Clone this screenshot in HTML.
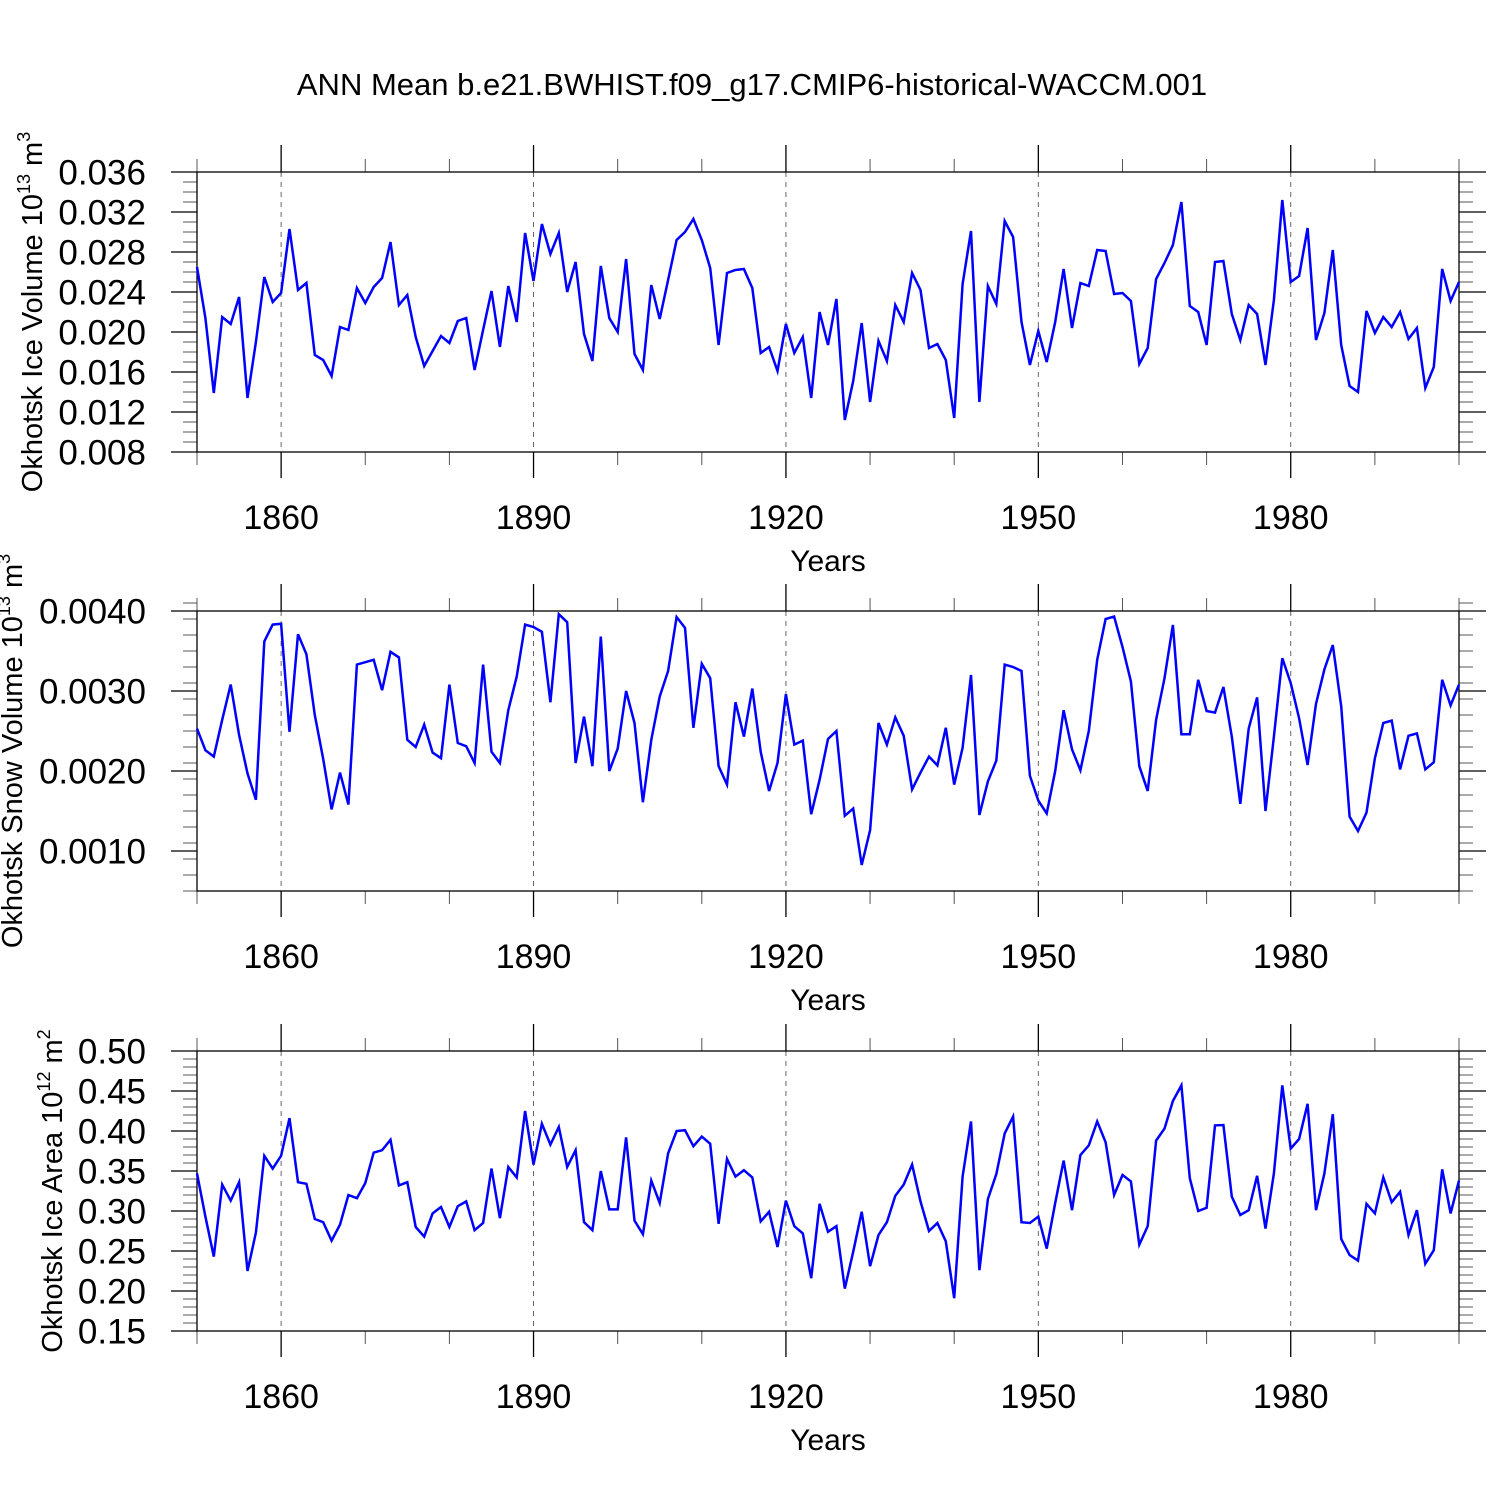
<!DOCTYPE html>
<html><head><meta charset="utf-8"><style>
html,body{margin:0;padding:0;background:#fff;}
svg{display:block;font-family:"Liberation Sans",Arial,sans-serif;}
</style></head><body>
<svg id="chart" width="1500" height="1500" viewBox="0 0 1500 1500" xmlns="http://www.w3.org/2000/svg">
<rect width="1500" height="1500" fill="#fff"/>
<text x="752" y="95" font-size="31" text-anchor="middle">ANN Mean b.e21.BWHIST.f09_g17.CMIP6-historical-WACCM.001</text>
</svg>
<script>
const startYear = 1850;
const iceVolume = [26.5,21.4,13.9,21.5,20.8,23.5,13.4,19.0,25.5,23.0,23.9,30.3,24.2,24.9,17.7,17.2,15.6,20.5,20.2,24.4,22.9,24.5,25.4,29.0,22.7,23.7,19.5,16.6,18.1,19.6,18.9,21.1,21.4,16.2,20.2,24.1,18.5,24.6,21.0,29.9,25.1,30.8,27.8,29.9,24.0,27.0,19.8,17.1,26.6,21.4,20.0,27.3,17.8,16.2,24.7,21.3,25.2,29.2,30.0,31.3,29.2,26.4,18.7,25.9,26.2,26.3,24.4,17.9,18.5,16.1,20.8,17.9,19.5,13.4,22.0,18.7,23.3,11.2,15.1,20.9,13.0,19.1,17.1,22.7,21.0,25.9,24.2,18.4,18.8,17.2,11.4,24.8,30.1,13.0,24.6,22.8,31.1,29.5,21.0,16.7,20.1,17.0,21.0,26.3,20.4,24.9,24.6,28.2,28.1,23.8,23.9,23.1,16.8,18.4,25.3,26.9,28.7,33.0,22.6,22.0,18.7,27.0,27.1,21.8,19.2,22.7,21.8,16.7,23.2,33.2,25.0,25.6,30.4,19.2,21.9,28.2,18.7,14.6,14.0,22.1,19.9,21.5,20.5,22.0,19.3,20.4,14.4,16.5,26.3,23.1,25.0].map(v=>v/1000);
const snowVolume = [25.3,22.6,21.8,26.4,30.8,24.5,19.7,16.4,36.2,38.3,38.4,24.9,37.1,34.6,27.0,21.5,15.2,19.8,15.8,33.3,33.6,33.9,30.1,34.9,34.2,23.9,23.0,25.8,22.3,21.6,30.8,23.5,23.1,21.0,33.3,22.4,21.0,27.6,31.8,38.3,38.0,37.4,28.6,39.6,38.6,21.0,26.8,20.6,36.8,20.0,22.8,30.0,26.0,16.1,23.9,29.3,32.5,39.25,37.9,25.4,33.4,31.6,20.6,18.3,28.6,24.3,30.3,22.4,17.5,21.0,29.6,23.3,23.8,14.6,18.9,24.0,25.0,14.4,15.3,8.25,12.6,26.0,23.3,26.7,24.4,17.7,19.8,21.8,20.7,25.4,18.3,22.9,32.0,14.5,18.7,21.3,33.3,33.0,32.5,19.4,16.3,14.7,20.0,27.6,22.7,20.1,25.0,33.9,39.0,39.3,35.5,31.2,20.6,17.5,26.4,31.6,38.25,24.6,24.6,31.4,27.5,27.3,30.5,24.3,15.9,25.3,29.2,15.0,24.3,34.1,31.0,26.6,20.75,28.4,32.7,35.75,28.1,14.3,12.5,14.8,21.6,26.0,26.3,20.2,24.4,24.7,20.2,21.1,31.4,28.2,30.8].map(v=>v/10000);
const iceArea = [34.7,29.3,24.3,33.3,31.3,33.6,22.5,27.3,36.9,35.3,36.9,41.6,33.6,33.4,29.0,28.6,26.3,28.3,32.0,31.6,33.5,37.3,37.6,38.9,33.2,33.6,28.0,26.8,29.7,30.5,28.0,30.6,31.2,27.6,28.5,35.3,29.1,35.5,34.2,42.5,35.8,40.9,38.3,40.5,35.5,37.6,28.6,27.6,35.0,30.2,30.2,39.2,28.8,27.1,33.8,31.0,37.2,40.0,40.1,38.1,39.3,38.4,28.4,36.5,34.3,35.1,34.2,28.7,29.9,25.5,31.3,28.1,27.2,21.6,30.9,27.4,28.1,20.3,24.9,29.9,23.1,27.0,28.6,31.9,33.3,35.8,31.2,27.5,28.5,26.2,19.1,34.3,41.2,22.6,31.5,34.6,39.7,41.8,28.6,28.5,29.3,25.3,31.0,36.3,30.1,37.0,38.2,41.2,38.6,32.0,34.5,33.7,25.8,28.1,38.8,40.3,43.75,45.7,34.1,30.0,30.4,40.7,40.75,31.8,29.5,30.1,34.4,27.8,34.7,45.7,37.8,39.0,43.4,30.1,34.7,42.1,26.5,24.5,23.8,30.9,29.7,34.2,31.1,32.4,27.0,30.1,23.4,25.1,35.2,29.7,33.8].map(v=>v/100);
const xMajorTicks = [1860,1890,1920,1950,1980];
const xMinorTicks = [1850,1870,1880,1900,1910,1930,1940,1960,1970,1990,2000];
const ticks1 = [0.008,0.012,0.016,0.020,0.024,0.028,0.032,0.036];
const ticks2 = [0.0010,0.0020,0.0030,0.0040];
const ticks3 = [0.15,0.20,0.25,0.30,0.35,0.40,0.45,0.50];

const NS="http://www.w3.org/2000/svg";
const svg=document.getElementById('chart');
const X0=197,X1=1459;
function xs(yr){return X0+(yr-1850)/150*(X1-X0);}
function mk(tag,attrs,parent){const e=document.createElementNS(NS,tag);for(const k in attrs)e.setAttribute(k,attrs[k]);(parent||svg).appendChild(e);return e;}

const panels=[
 {top:172,bot:452,min:0.008,max:0.036,ticks:ticks1,minor:0.001,dec:3,data:iceVolume,label:'Okhotsk Ice Volume 10',exp:'13',unit:' m',uexp:'3',lx:42,name:'ice-volume'},
 {top:611,bot:891,min:0.0005,max:0.0040,ticks:ticks2,minor:0.0002,dec:4,data:snowVolume,label:'Okhotsk Snow Volume 10',exp:'13',unit:' m',uexp:'3',lx:22,name:'snow-volume'},
 {top:1051,bot:1331,min:0.15,max:0.50,ticks:ticks3,minor:0.01,dec:2,data:iceArea,label:'Okhotsk Ice Area 10',exp:'12',unit:' m',uexp:'2',lx:62,name:'ice-area'}
];
panels.forEach(p=>{
 const g=mk('g',{});
 
 
 const ys=v=>p.bot-(v-p.min)/(p.max-p.min)*(p.bot-p.top);
 xMajorTicks.forEach(yr=>{
  const l=mk('line',{x1:xs(yr),x2:xs(yr),y1:p.top,y2:p.bot,stroke:'#666','stroke-width':1,'stroke-dasharray':'5,5'},g);
  
  
 });
 const n=Math.round((p.max-p.min)/p.minor);
 for(let i=0;i<=n;i++){
  const v=p.min+i*p.minor,y=ys(v);
  mk('line',{x1:X0-14,x2:X0,y1:y,y2:y,stroke:'#555','stroke-width':1},g);
  mk('line',{x1:X1,x2:X1+14,y1:y,y2:y,stroke:'#555','stroke-width':1},g);
 }
 p.ticks.forEach(v=>{
  const y=ys(v);
  mk('line',{x1:X0-26,x2:X0,y1:y,y2:y,stroke:'#000','stroke-width':1.3},g);
  mk('line',{x1:X1,x2:X1+27,y1:y,y2:y,stroke:'#000','stroke-width':1.3},g);
  const t=mk('text',{x:146,y:y+12.5,'font-size':35,'text-anchor':'end'},g);
  t.textContent=v.toFixed(p.dec);
  
  
 });
 xMinorTicks.forEach(yr=>{
  const x=xs(yr);
  mk('line',{x1:x,x2:x,y1:p.top-13,y2:p.top,stroke:'#555','stroke-width':1},g);
  mk('line',{x1:x,x2:x,y1:p.bot,y2:p.bot+13,stroke:'#555','stroke-width':1},g);
 });
 xMajorTicks.forEach(yr=>{
  const x=xs(yr);
  mk('line',{x1:x,x2:x,y1:p.top-27,y2:p.top,stroke:'#000','stroke-width':1.3},g);
  mk('line',{x1:x,x2:x,y1:p.bot,y2:p.bot+26,stroke:'#000','stroke-width':1.3},g);
  const t=mk('text',{x:x,y:p.bot+77,'font-size':34,'text-anchor':'middle'},g);
  t.textContent=yr;
  
  
 });
 const fr=mk('rect',{x:X0,y:p.top,width:X1-X0,height:p.bot-p.top,fill:'none',stroke:'#000','stroke-width':1.3},g);
 
 
 const pts=p.data.map((v,i)=>xs(startYear+i).toFixed(1)+','+ys(v).toFixed(1)).join(' ');
 const line=mk('polyline',{points:pts,fill:'none',stroke:'#0000ff','stroke-width':2.5,'stroke-linejoin':'miter'},g);
 
 
 const xt=mk('text',{x:828,y:p.bot+119,'font-size':30,'text-anchor':'middle'},g);
 xt.textContent='Years';
 
 
 const cy=(p.top+p.bot)/2;
 const yt=mk('text',{x:p.lx,y:cy,'font-size':29,'text-anchor':'middle',transform:`rotate(-90 ${p.lx} ${cy})`},g);
 
 
 yt.appendChild(document.createTextNode(p.label));
 const s1=mk('tspan',{dy:-12,'font-size':18},yt);s1.textContent=p.exp;
 const s2=mk('tspan',{dy:12},yt);s2.textContent=p.unit;
 const s3=mk('tspan',{dy:-12,'font-size':18},yt);s3.textContent=p.uexp;
});
</script>
</body></html>
